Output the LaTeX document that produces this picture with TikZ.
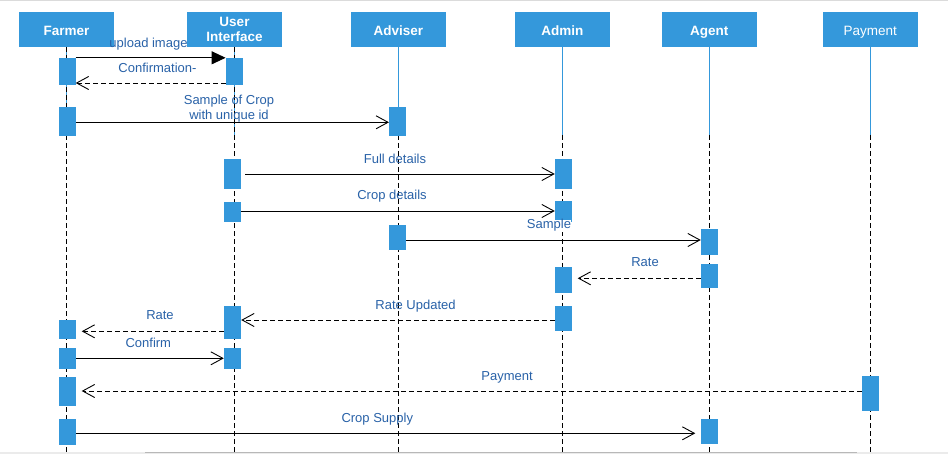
\documentclass[tikz,border=0pt]{standalone}
\usepackage{fontspec}
\setmainfont{Liberation Sans}
\usetikzlibrary{arrows.meta}
\definecolor{hdr}{RGB}{52,152,219}
\definecolor{lblc}{RGB}{41,98,168}
\begin{document}
\begin{tikzpicture}[x=1pt,y=-1pt,
 hdrbase/.style={fill=hdr,text=white,minimum width=95pt,minimum height=35pt,inner sep=0pt,font=\fontsize{13.5}{15.8}\selectfont\bfseries,align=center},
 hdrbox/.style={hdrbase,text height=12.2pt,text depth=0pt},
 actbox/.style={fill=hdr,minimum width=17pt,inner sep=0pt,draw=none},
 msg/.style={line width=0.9pt,-{Straight Barb[length=12pt,width=13pt,line width=0.9pt]}},
 ret/.style={msg,dash pattern=on 5pt off 3pt},
 lbl/.style={text=lblc,font=\fontsize{13}{15.2}\selectfont,inner sep=0pt,anchor=base},
 lifeblue/.style={draw=hdr,line width=0.9pt},
 lifedash/.style={line width=0.9pt,dash pattern=on 5pt off 3pt}]
\useasboundingbox (0,0) rectangle (948,454);
\fill[white] (0,0) rectangle (948,454);
\fill[black!14] (0,0) rectangle (948,1.5);
\fill[black!8] (0,451.5) rectangle (948,454);
\draw[black!28,line width=1pt] (145,452.5) -- (857,452.5);
% headers
\node[hdrbox] (farmer) at (66.5,29.5) {Farmer};
\node[hdrbase] (ui) at (234.5,29.5) {User\\Interface};
\node[hdrbox] (adv) at (398.3,29.5) {Adviser};
\node[hdrbox] (adm) at (562.3,29.5) {Admin};
\node[hdrbox] (agt) at (709.3,29.5) {Agent};
\node[hdrbox,font=\fontsize{13.5}{15.8}\selectfont] (pay) at (870.3,29.5) {Payment};
% lifelines
\foreach \n in {farmer,ui,adv,adm,agt,pay}{
  \draw[lifeblue] (\n.south) -- (\n.south |- 0,135);
}
\foreach \n in {farmer,ui}{
  \draw[lifedash] (\n.south) -- (\n.south |- 0,454);
}
\foreach \n in {adv,adm,agt,pay}{
  \draw[lifedash] (\n.south |- 0,135) -- (\n.south |- 0,454);
}
% activations
\node[actbox,minimum height=27pt] (f1) at (67,71.5) {};
\node[actbox,minimum height=29pt] (f2) at (67.5,121.5) {};
\node[actbox,minimum height=27pt] (u1) at (234.3,71.5) {};
\node[actbox,minimum height=29pt] (a1) at (397.7,121.5) {};
\node[actbox,minimum height=30pt] (u2) at (232.5,174) {};
\node[actbox,minimum height=20pt] (u3) at (232.5,212) {};
\node[actbox,minimum height=30pt] (m1) at (563.5,174) {};
\node[actbox,minimum height=21pt] (m2) at (563.5,211.5) {};
\node[actbox,minimum height=25pt] (a2) at (397.5,237.5) {};
\node[actbox,minimum height=26pt] (g1) at (709.5,242) {};
\node[actbox,minimum height=24pt] (g2) at (709.5,276) {};
\node[actbox,minimum height=26pt] (m3) at (563.5,280) {};
\node[actbox,minimum height=25pt] (m4) at (563.5,318.5) {};
\node[actbox,minimum height=33pt] (u4) at (232.5,322.5) {};
\node[actbox,minimum height=21pt] (u5) at (232.5,358.5) {};
\node[actbox,minimum height=19pt] (f3) at (67.5,329.5) {};
\node[actbox,minimum height=21pt] (f4) at (67.5,358.5) {};
\node[actbox,minimum height=29pt] (f5) at (67.5,391.5) {};
\node[actbox,minimum height=35pt] (p1) at (870.5,393.5) {};
\node[actbox,minimum height=26pt] (f6) at (67.5,432) {};
\node[actbox,minimum height=25pt] (g3) at (709.5,431.5) {};
% messages
\draw[line width=0.9pt,-{Triangle[length=14pt,width=13pt]}] (f1.north east) -- (u1.north west);
\node[lbl] (l1) at (148.5,47.3) {upload image};
\draw[ret] (u1.west |- 0,83) -- (f1.east |- 0,83);
\node[lbl] (l2) at (157.5,72.3) {Confirmation-};
\draw[msg] (f2.east |- 0,122.3) -- (a1.west |- 0,122.3);
\node[lbl,anchor=center,align=center] (l3) at (229,108.6) {Sample of Crop\\with unique id};
\draw[msg,shorten <=4pt] (u2.east |- 0,174) -- (m1.west |- 0,174);
\node[lbl] (l4) at (395,163.2) {Full details};
\draw[msg] (u3.east |- 0,211) -- (m2.west |- 0,211);
\node[lbl] (l5) at (392,199.6) {Crop details};
\draw[msg] (a2.east |- 0,240) -- (g1.west |- 0,240);
\node[lbl,fill=white] (l6) at (549,229) {Sample};
\draw[ret,shorten >=5.5pt] (g2.west |- 0,278.3) -- (m3.east |- 0,278.3);
\node[lbl] (l7) at (645,267) {Rate};
\draw[ret] (m4.west |- 0,320) -- (u4.east |- 0,320);
\node[lbl] (l8) at (415.5,309.2) {Rate Updated};
\draw[ret,shorten >=5.5pt] (u4.west |- 0,331.3) -- (f3.east |- 0,331.3);
\node[lbl] (l9) at (160,320) {Rate};
\draw[msg] (f4.east |- 0,358.3) -- (u5.west |- 0,358.3);
\node[lbl] (l10) at (148.3,347.3) {Confirm};
\draw[ret,shorten >=5.5pt] (p1.west |- 0,391) -- (f5.east |- 0,391);
\node[lbl] (l11) at (507,380.3) {Payment};
\draw[msg,shorten >=5.5pt] (f6.east |- 0,433.3) -- (g3.west |- 0,433.3);
\node[lbl] (l12) at (377.3,422.3) {Crop Supply};
\end{tikzpicture}
\end{document}
